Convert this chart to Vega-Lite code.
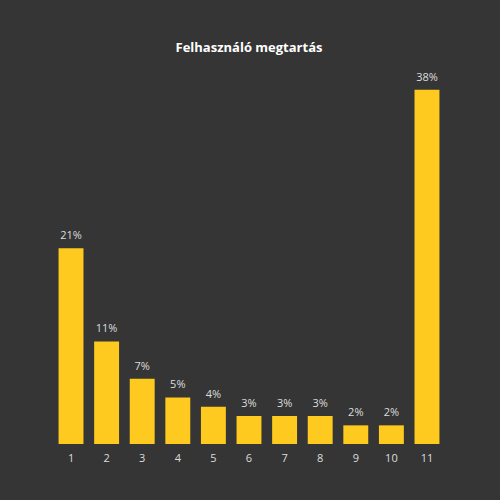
{
  "$schema": "https://vega.github.io/schema/vega-lite/v6.json",
  "width": 388,
  "height": 373,
  "autosize": {"type": "none"},
  "padding": {"left": 55, "top": 71, "right": 57, "bottom": 56},
  "background": "#353535",
  "title": {
    "text": "Felhasználó megtartás",
    "color": "#ffffff",
    "font": "Open Sans",
    "fontSize": 13,
    "fontWeight": "bold",
    "anchor": "middle",
    "offset": 16
  },
  "data": {
    "values": [
      {"day": "1", "retention": 0.21},
      {"day": "2", "retention": 0.11},
      {"day": "3", "retention": 0.07},
      {"day": "4", "retention": 0.05},
      {"day": "5", "retention": 0.04},
      {"day": "6", "retention": 0.03},
      {"day": "7", "retention": 0.03},
      {"day": "8", "retention": 0.03},
      {"day": "9", "retention": 0.02},
      {"day": "10", "retention": 0.02},
      {"day": "11", "retention": 0.38}
    ]
  },
  "encoding": {
    "x": {
      "field": "day",
      "type": "ordinal",
      "sort": null,
      "scale": {"paddingInner": 0.3, "paddingOuter": 0.1},
      "axis": {
        "title": null,
        "labelAngle": 0,
        "labelColor": "#dddddd",
        "labelFont": "Open Sans",
        "labelFontSize": 11,
        "labelPadding": 8,
        "ticks": false,
        "domain": false
      }
    },
    "y": {
      "field": "retention",
      "type": "quantitative",
      "scale": {"domain": [0, 0.4], "nice": false},
      "axis": null
    }
  },
  "layer": [
    {"mark": {"type": "bar", "color": "#ffca1f"}},
    {
      "mark": {
        "type": "text",
        "baseline": "bottom",
        "dy": -7,
        "color": "#dddddd",
        "font": "Open Sans",
        "fontSize": 11
      },
      "encoding": {
        "text": {"field": "retention", "type": "quantitative", "format": ".0%"}
      }
    }
  ],
  "config": {"view": {"stroke": null}}
}
